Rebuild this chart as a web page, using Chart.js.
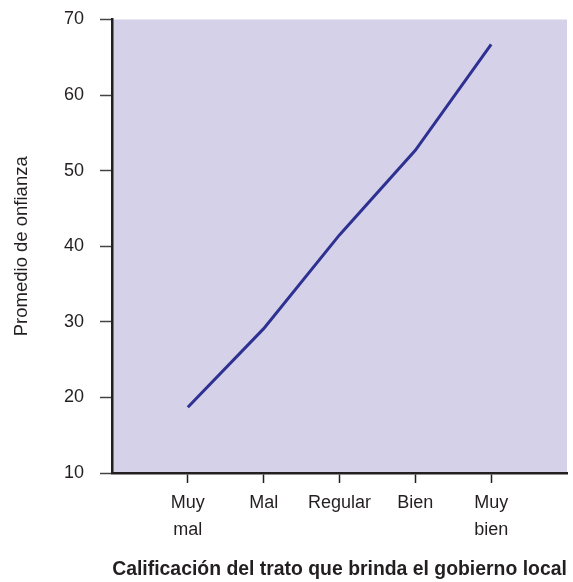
<!DOCTYPE html>
<html>
<head>
<meta charset="utf-8">
<script src="https://cdn.jsdelivr.net/npm/chart.js@4.4.0/dist/chart.umd.min.js"></script>
<style>
  html, body { margin: 0; padding: 0; background: #fff; }
  #wrap { width: 573px; height: 582px; }
</style>
</head>
<body>
<div id="wrap"><canvas id="grafico"></canvas></div>
<script>
// datos
const categorias = [['Muy', 'mal'], 'Mal', 'Regular', 'Bien', ['Muy', 'bien']];
const promedios = [18.7, 29.1, 41.5, 52.7, 66.7];
const ticksY = [10, 20, 30, 40, 50, 60, 70];

const fuente = "'Liberation Sans', Arial, sans-serif";
const tinta = '#231f20';

// un hueco vacio a cada lado para dejar margen en el eje x
const etiquetas = [''].concat(categorias, ['']);
const valores = [null].concat(promedios, [null]);

const fondo = {
  id: 'fondo',
  beforeDraw(chart) {
    const { ctx, chartArea: a } = chart;
    ctx.save();
    ctx.fillStyle = '#d5d1e8';
    ctx.fillRect(a.left, a.top, a.right - a.left, a.bottom - a.top);
    ctx.restore();
  }
};

const ctx = document.getElementById('grafico').getContext('2d');
const chart = new Chart(ctx, {
  type: 'line',
  data: {
    labels: etiquetas,
    datasets: [{
      data: valores,
      borderColor: '#2e3192',
      borderWidth: 3,
      pointRadius: 0,
      tension: 0,
      fill: false
    }]
  },
  options: {
    responsive: true,
    maintainAspectRatio: false,
    animation: false,
    layout: { padding: { top: 19.5, right: 6, left: 0, bottom: 0 } },
    plugins: {
      legend: { display: false },
      tooltip: { enabled: false }
    },
    scales: {
      x: {
        type: 'category',
        offset: false,
        afterFit: scale => {
          scale.height = 109;
          scale.paddingLeft = 0;
          scale.paddingRight = 0;
        },
        border: { color: tinta, width: 2.5 },
        grid: {
          drawOnChartArea: false,
          tickLength: 10,
          tickWidth: 1.5,
          tickColor: c => (c.index === 0 || c.index === etiquetas.length - 1) ? 'rgba(0,0,0,0)' : tinta
        },
        ticks: {
          autoSkip: false,
          maxRotation: 0,
          padding: 7,
          color: tinta,
          font: { family: fuente, size: 18, lineHeight: 1.5 }
        },
        title: {
          display: true,
          text: 'Calificación del trato que brinda el gobierno local',
          color: tinta,
          padding: { top: 0, bottom: 1 },
          font: { family: fuente, size: 19.4, weight: 'bold' }
        }
      },
      y: {
        min: 10,
        max: 70,
        afterFit: scale => {
          scale.width = 112;
          scale.paddingTop = 0;
          scale.paddingBottom = 0;
        },
        afterBuildTicks: scale => { scale.ticks = ticksY.map(v => ({ value: v })); },
        border: { color: tinta, width: 2.5 },
        grid: {
          drawOnChartArea: false,
          tickLength: 12,
          tickWidth: 1.5,
          tickColor: '#444'
        },
        ticks: {
          padding: 16,
          color: tinta,
          font: { family: fuente, size: 18 }
        },
        title: {
          display: true,
          text: 'Promedio de onfianza',
          color: tinta,
          padding: { top: 11, bottom: 0 },
          font: { family: fuente, size: 18.5 }
        }
      }
    }
  },
  plugins: [fondo]
});
</script>
</body>
</html>
